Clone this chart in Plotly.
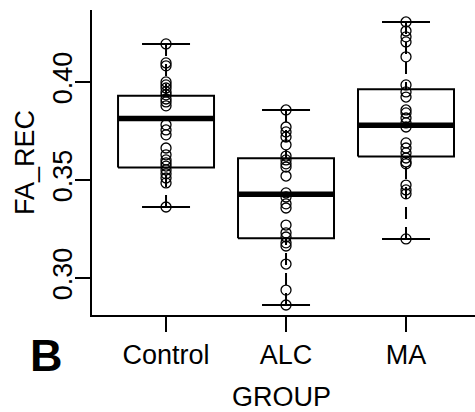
import plotly.graph_objects as go

# Groups and FA_REC observations
groups = ["Control", "ALC", "MA"]

control_vals = [0.4194, 0.4097, 0.4082, 0.4000, 0.3985, 0.3969, 0.3949, 0.3934,
                0.3913, 0.3898, 0.3878, 0.3781, 0.3755, 0.3730, 0.3663, 0.3628,
                0.3602, 0.3587, 0.3571, 0.3551, 0.3531, 0.3510, 0.3485, 0.3362]
alc_vals = [0.3857, 0.3770, 0.3745, 0.3719, 0.3679, 0.3622, 0.3602, 0.3582,
            0.3566, 0.3520, 0.3434, 0.3413, 0.3378, 0.3357, 0.3270, 0.3230,
            0.3209, 0.3179, 0.3163, 0.3071, 0.2938, 0.2862]
ma_vals = [0.4306, 0.4260, 0.4230, 0.4204, 0.4128, 0.3985, 0.3949, 0.3923,
           0.3857, 0.3842, 0.3816, 0.3791, 0.3770, 0.3689, 0.3663, 0.3638,
           0.3612, 0.3592, 0.3582, 0.3474, 0.3449, 0.3429, 0.3199]

# Box summary per group: lower whisker, Q1, median, Q3, upper whisker
whisker_lo = [0.3362, 0.2862, 0.3199]
q1 = [0.3563, 0.3203, 0.3619]
median = [0.3813, 0.3427, 0.3779]
q3 = [0.3929, 0.3611, 0.3963]
whisker_hi = [0.4194, 0.3857, 0.4306]

y_ticks = [0.30, 0.35, 0.40]
y_tick_text = ["0.30", "0.35", "0.40"]

FONT = "Liberation Sans, Arial, Helvetica, sans-serif"
BOX_HALF = 0.4
CAP_HALF = 0.2

fig = go.Figure()
line_kw = dict(mode="lines", hoverinfo="skip", showlegend=False)

for i, name in enumerate(groups):
    x = i + 1
    # dashed whiskers (drawn from the whisker end toward the box)
    fig.add_trace(go.Scatter(x=[x, x], y=[whisker_hi[i], q3[i]],
                             line=dict(color="black", width=2, dash="12px,8px"), **line_kw))
    fig.add_trace(go.Scatter(x=[x, x], y=[whisker_lo[i], q1[i]],
                             line=dict(color="black", width=2, dash="12px,8px"), **line_kw))
    # staples
    for yv in (whisker_hi[i], whisker_lo[i]):
        fig.add_trace(go.Scatter(x=[x - CAP_HALF, x + CAP_HALF], y=[yv, yv],
                                 line=dict(color="black", width=2), **line_kw))
    # box body
    fig.add_trace(go.Scatter(x=[x - BOX_HALF, x + BOX_HALF, x + BOX_HALF, x - BOX_HALF, x - BOX_HALF],
                             y=[q1[i], q1[i], q3[i], q3[i], q1[i]],
                             line=dict(color="black", width=2), **line_kw))
    # median bar
    fig.add_trace(go.Scatter(x=[x - BOX_HALF, x + BOX_HALF], y=[median[i], median[i]],
                             line=dict(color="black", width=5.5), **line_kw))

# individual observations as open circles
for i, vals in enumerate([control_vals, alc_vals, ma_vals]):
    fig.add_trace(go.Scatter(
        x=[i + 1] * len(vals), y=vals, mode="markers", showlegend=False,
        name=groups[i],
        marker=dict(symbol="circle-open", size=10, color="black", line=dict(width=1.3)),
    ))

fig.update_layout(
    width=475, height=412,
    margin=dict(l=92, r=0, t=10, b=97, autoexpand=False),
    paper_bgcolor="white", plot_bgcolor="white",
    font=dict(family=FONT, color="black", size=27),
    showlegend=False,
    xaxis=dict(
        range=[0.383, 3.575], tickmode="array", tickvals=[1, 2, 3], ticktext=groups,
        showgrid=False, zeroline=False, showline=True, linecolor="black", linewidth=2,
        ticks="outside", ticklen=15, tickwidth=1.5, tickcolor="black",
        tickfont=dict(size=27), ticklabelstandoff=0, automargin=False,
    ),
    yaxis=dict(
        range=[0.2811, 0.4367], tickmode="array", tickvals=y_ticks, ticktext=y_tick_text,
        showgrid=False, zeroline=False, showline=True, linecolor="black", linewidth=2,
        ticks="outside", ticklen=15, tickwidth=1.5, tickcolor="black",
        tickangle=-90, tickfont=dict(size=27), ticklabelstandoff=-8, automargin=False,
        title=dict(text="FA_REC", font=dict(size=27), standoff=6),
    ),
    annotations=[
        dict(text="GROUP", xref="paper", yref="paper", x=0.496, y=-0.269,
             xanchor="center", yanchor="middle", showarrow=False,
             font=dict(size=27, family=FONT, color="black")),
        dict(text="<b>B</b>", xref="paper", yref="paper", x=-0.1175, y=-0.132,
             xanchor="center", yanchor="middle", showarrow=False,
             font=dict(size=45, family=FONT, color="black")),
    ],
)

fig.write_html("out.html")
